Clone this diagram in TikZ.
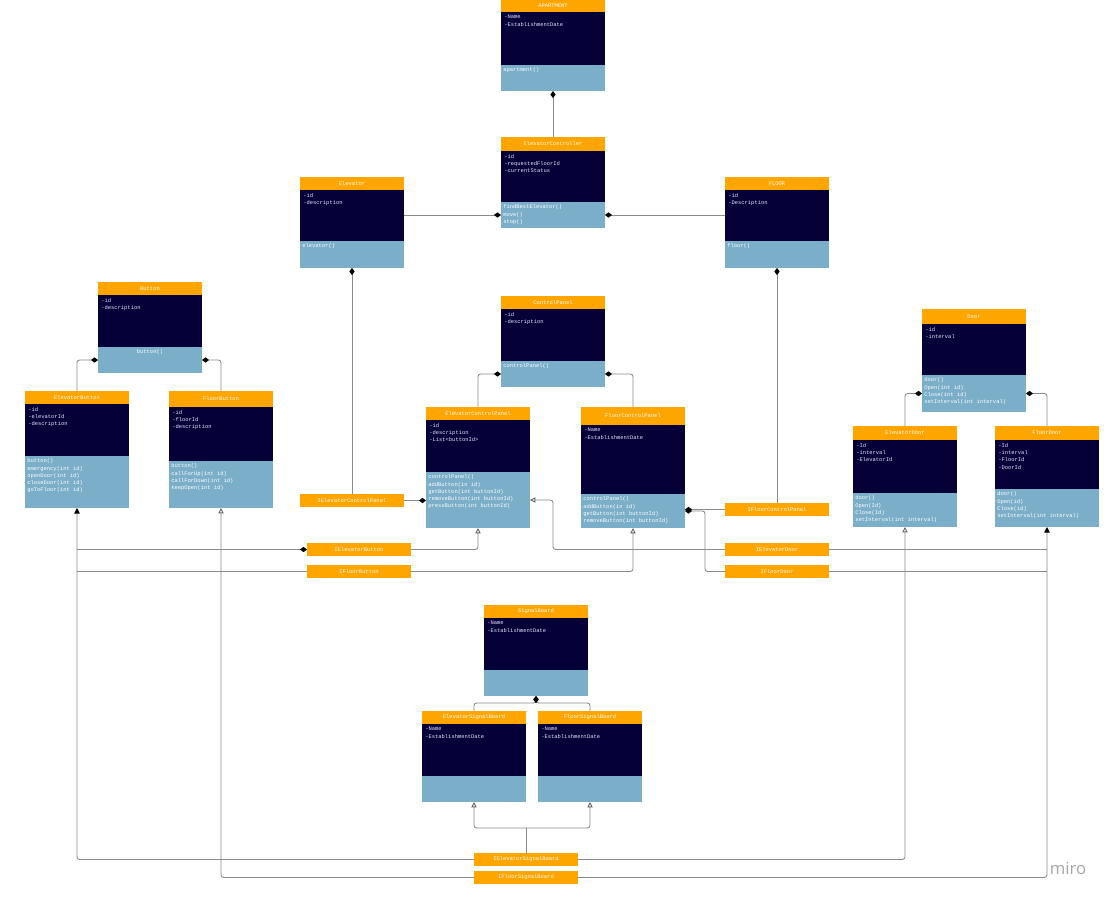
\documentclass[tikz,border=0pt]{standalone}
\usepackage{fontspec}
\setmonofont{Liberation Mono}
\newfontfamily\mirofont{Open Sans}
\usetikzlibrary{arrows.meta,calc}

\definecolor{hdrorange}{HTML}{FFA500}
\definecolor{attrnavy}{HTML}{050038}
\definecolor{methblue}{HTML}{7BAEC8}
\definecolor{linkgray}{HTML}{8A8A8A}

\tikzset{
  umlfont/.style={font=\ttfamily\fontsize{3.1}{4.15}\selectfont},
  box/.style={anchor=north west, minimum width=2.08cm, inner sep=0pt, outer sep=0pt},
  hdr/.style={box, fill=hdrorange, text=white, umlfont},
  attrbox/.style={box, fill=attrnavy},
  methbox/.style={box, fill=methblue},
  attrtxt/.style={anchor=north west, inner sep=0pt, align=left, text=white!90!blue, umlfont},
  methtxt/.style={anchor=north west, inner sep=0pt, align=left, text=white, umlfont},
  iface/.style={box, fill=hdrorange, text=white, minimum height=0.26cm, umlfont},
  link/.style={draw=linkgray, line width=0.5pt, rounded corners=1.5pt},
  aggr/.style={-{Diamond[length=4pt,width=3pt,black]}},
  realize/.style={-{Triangle[open,length=3pt,width=3pt,black!60]}},
  solidarr/.style={-{Triangle[length=3.2pt,width=3.2pt,black]}},
}

% name, x, y, header h, attr h, method h, title, attributes, methods
\newcommand\umlclass[9]{%
  \node[hdr, minimum height=#4*0.02cm] (#1) at (#2,#3) {#7};
  \node[attrbox, minimum height=#5*0.02cm] (#1-a) at (#1.south west) {};
  \node[methbox, minimum height=#6*0.02cm] (#1-m) at (#1-a.south west) {};
  \node[attrtxt] at ($(#1-a.north west)+(3,3)$) {#8};
  \node[methtxt] at ($(#1-m.north west)+(2,2.5)$) {#9};
}

\begin{document}
\begin{tikzpicture}[x=0.02cm,y=-0.02cm]
  \useasboundingbox[fill=white] (0,0) rectangle (1111,899);

  % classes
  \umlclass{apartment}{501}{0}{12}{53}{26}{APARTMENT}{-Name\\-EstablishmentDate}{apartment()}
  \umlclass{controller}{501}{137}{14}{51}{26}{ElevatorController}{-id\\-requestedFloorId\\-currentStatus}{findBestElevator()\\move()\\stop()}
  \umlclass{elevator}{300}{177}{13}{51}{27}{Elevator}{-id\\-description}{elevator()}
  \umlclass{floor}{725}{177}{13}{51}{27}{FLOOR}{-id\\-Description}{floor()}
  \umlclass{button}{98}{282}{13}{52}{26}{Button}{-id\\-description}{}
  \node[methtxt, anchor=north] at ($(button-m.north)+(0,2.5)$) {button()};
  \umlclass{elevbutton}{25}{391}{13}{52}{52}{ElevatorButton}{-id\\-elevatorId\\-description}{button()\\emergency(int id)\\openDoor(int id)\\closeDoor(int id)\\goToFloor(int id)}
  \umlclass{floorbutton}{169}{391}{16}{54}{47}{FloorButton}{-id\\-floorId\\-description}{button()\\callForUp(int id)\\callForDown(int id)\\keepOpen(int id)}
  \umlclass{panel}{501}{296}{13}{52}{26}{ControlPanel}{-id\\-description}{controlPanel()}
  \umlclass{elevpanel}{426}{407}{13}{52}{56}{ElevatorControlPanel}{-id\\-description\\-List<buttonId>}{controlPanel()\\addButton(in id)\\getButton(int buttonId)\\removeButton(int buttonId)\\pressButton(int buttonId)}
  \umlclass{floorpanel}{581}{407}{18}{69}{34}{FloorControlPanel}{-Name\\-EstablishmentDate}{controlPanel()\\addButton(in id)\\getButton(int buttonId)\\removeButton(int buttonId)}
  \umlclass{door}{922}{309}{15}{51}{37}{Door}{-id\\-interval}{door()\\Open(int id)\\Close(int id)\\setInterval(int interval)}
  \umlclass{elevdoor}{853}{426}{14}{53}{34}{ElevatorDoor}{-Id\\-interval\\-ElevatorId}{door()\\Open(Id)\\Close(Id)\\setInterval(int interval)}
  \umlclass{floordoor}{995}{426}{14}{49}{38}{FloorDoor}{-Id\\-interval\\-FloorId\\-DoorId}{door()\\Open(id)\\Close(id)\\setInterval(int interval)}
  \umlclass{board}{484}{605}{13}{52}{26}{SignalBoard}{-Name\\-EstablishmentDate}{}
  \umlclass{elevboard}{422}{711}{13}{52}{26}{ElevatorSignalBoard}{-Name\\-EstablishmentDate}{}
  \umlclass{floorboard}{538}{711}{13}{52}{26}{FloorSignalBoard}{-Name\\-EstablishmentDate}{}

  % interfaces
  \node[iface] (ielevpanel) at (300,494) {IElevatorControlPanel};
  \node[iface] (ielevbutton) at (307,543) {IElevatorButton};
  \node[iface] (ifloorbutton) at (307,565) {IFloorButton};
  \node[iface] (ifloorpanel) at (725,503) {IFloorControlPanel};
  \node[iface] (ielevdoor) at (725,543) {IElevatorDoor};
  \node[iface] (ifloordoor) at (725,565) {IFloorDoor};
  \node[iface] (ielevboard) at (474,853) {IElevatorSignalBoard};
  \node[iface] (ifloorboard) at (474,871) {IFloorSignalBoard};

  % composition
  \draw[link,aggr] (controller.north) -- (apartment-m.south);
  \draw[link,aggr] (elevator-a.east |- controller-m.west) -- (controller-m.west);
  \draw[link,aggr] (floor-a.west |- controller-m.east) -- (controller-m.east);
  \draw[link,aggr] (ielevpanel.north) -- (elevator-m.south);
  \draw[link,aggr] (ifloorpanel.north) -- (floor-m.south);
  \draw[link,aggr] (elevbutton.north) |- (button-m.west);
  \draw[link,aggr] (floorbutton.north) |- (button-m.east);
  \draw[link,aggr] (elevpanel.north) |- (panel-m.west);
  \draw[link,aggr] (floorpanel.north) |- (panel-m.east);
  \draw[link,aggr] (elevdoor.north) |- (door-m.west);
  \draw[link,aggr] (floordoor.north) |- (door-m.east);
  \draw[link,aggr] (elevboard.north) -- ++(0,-8) -| (board-m.south);
  \draw[link,aggr] (floorboard.north) -- ++(0,-8) -| (board-m.south);

  % interface links
  \draw[link,aggr] (ielevpanel.east) -- (ielevpanel.east -| elevpanel-m.west);
  \draw[link,aggr] (ifloorpanel.west) -- (ifloorpanel.west -| floorpanel-m.east);
  \draw[link,aggr] (ifloordoor.west) -| ($(floorpanel-m.east)+(20,0)$) -- (floorpanel-m.east);
  \draw[link,realize] (ielevdoor.west) -| ($(elevpanel-m.east)+(23,0)$) -- (elevpanel-m.east);
  \draw[link,realize] (ielevbutton.east) -| (elevpanel-m.south);
  \draw[link,realize] (ifloorbutton.east) -| (floorpanel-m.south);
  \draw[link,aggr] (elevbutton-m.south |- ielevbutton.west) -- (ielevbutton.west);
  \draw[link] (ifloorbutton.west) -- (ifloorbutton.west -| elevbutton-m.south);
  \draw[link,solidarr] (ielevboard.west) -| (elevbutton-m.south);
  \draw[link,realize] (ifloorboard.west) -| (floorbutton-m.south);
  \draw[link] (ielevdoor.east) -- (ielevdoor.east -| floordoor-m.south);
  \draw[link] (ifloordoor.east) -- (ifloordoor.east -| floordoor-m.south);
  \draw[link,realize] (ielevboard.east) -| (elevdoor-m.south);
  \draw[link,solidarr] (ifloorboard.east) -| (floordoor-m.south);
  \draw[link] (ielevboard.north) -- ++(0,-25) coordinate (boardfork);
  \draw[link,realize] (boardfork) -| (elevboard-m.south);
  \draw[link,realize] (boardfork) -| (floorboard-m.south);

  \node[text=black!35, font=\mirofont\fontsize{9.5}{10}\selectfont, inner sep=0pt] (watermark) at (1068,868) {miro};
\end{tikzpicture}
\end{document}
